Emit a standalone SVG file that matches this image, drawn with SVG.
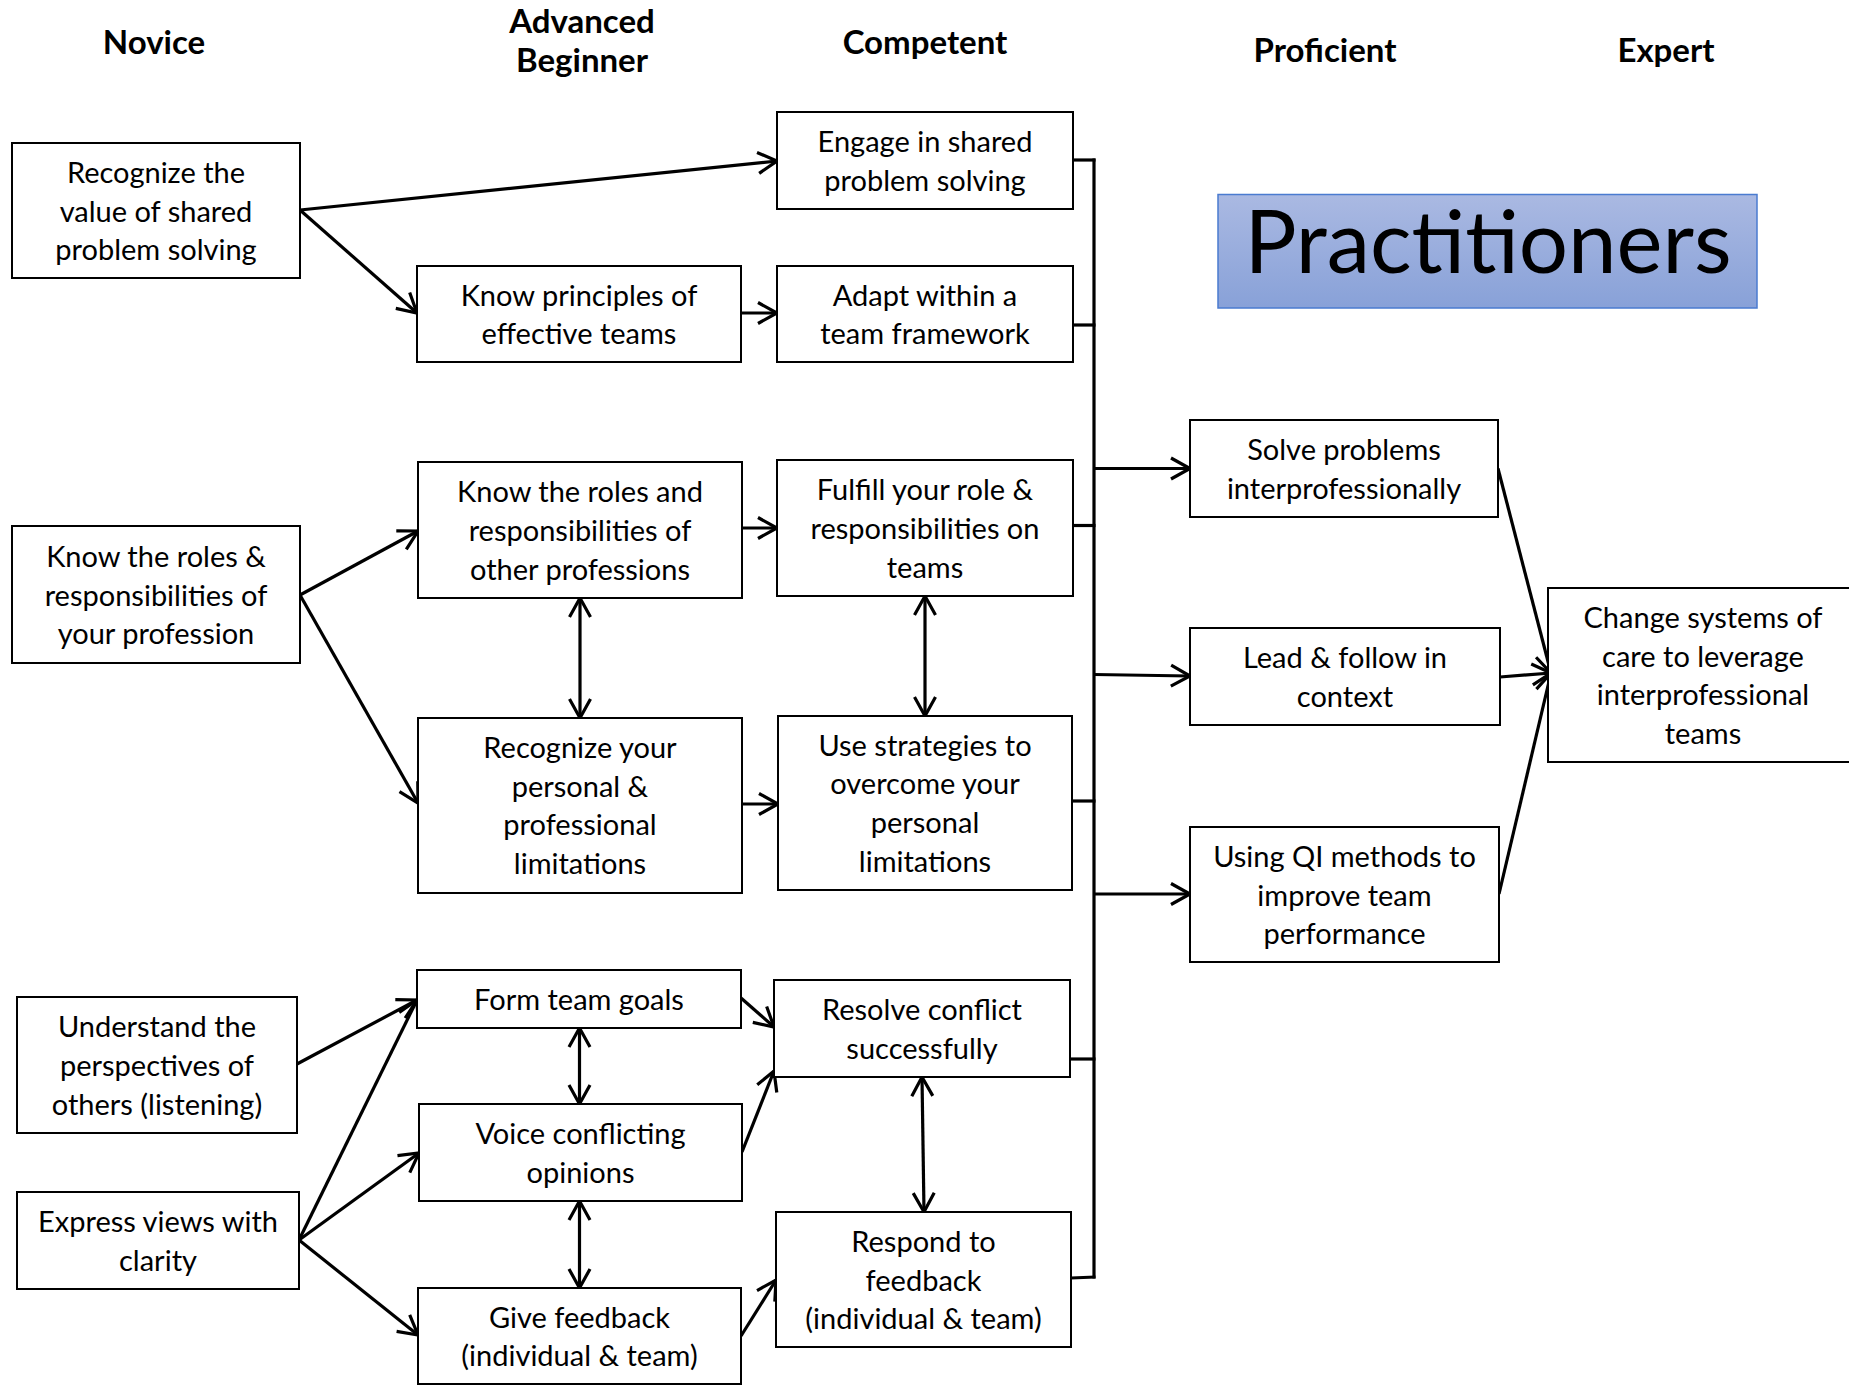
<svg xmlns="http://www.w3.org/2000/svg" width="1849" height="1385" viewBox="0 0 1849 1385">
  <defs>
    <linearGradient id="bannerFill" x1="0" y1="0" x2="0" y2="1">
      <stop offset="0" stop-color="#AAB9E2"/>
      <stop offset="1" stop-color="#88A1D8"/>
    </linearGradient>
    <marker id="arrow" markerUnits="userSpaceOnUse" orient="auto-start-reverse" overflow="visible" markerWidth="1" markerHeight="1" refX="0" refY="0">
      <path d="M-19,-10.5 L0,0 L-19,10.5" fill="none" stroke="#000" stroke-width="3.2"/>
    </marker>
    <style>
      .box rect { fill: #fff; stroke: #000; stroke-width: 2; }
      .box text { font-family: Lato, "Open Sans", sans-serif; font-size: 29px; fill: #000; text-anchor: middle; }
      .head { font-family: Lato, "Open Sans", sans-serif; font-size: 33px; font-weight: bold; fill: #000; text-anchor: middle; }
      .conn path { fill: none; stroke: #000; stroke-width: 3.2; }
      .arr { marker-end: url(#arrow); }
      .dbl { marker-start: url(#arrow); marker-end: url(#arrow); }
    </style>
  </defs>

  <!-- stage headings -->
  <g id="headings">
    <text class="head" x="154" y="54">Novice</text>
    <text class="head" x="582" y="33" font-size="32">Advanced</text>
    <text class="head" x="582" y="72" font-size="32">Beginner</text>
    <text class="head" x="925" y="54">Competent</text>
    <text class="head" x="1325" y="62">Proficient</text>
    <text class="head" x="1666" y="62">Expert</text>
  </g>

  <!-- banner -->
  <g id="practitioners">
    <rect x="1218" y="194.5" width="539" height="113.5" fill="url(#bannerFill)" stroke="#4A7BD0" stroke-width="1.5"/>
    <text x="1488" y="273" font-family="Lato, 'Open Sans', sans-serif" font-size="87" fill="#000" text-anchor="middle">Practitioners</text>
  </g>

  <!-- connectors -->
  <g id="connectors" class="conn">
    <path class="arr" d="M300,210 L777,161"/>
    <path class="arr" d="M300,210 L417,313"/>
    <path class="arr" d="M741,313 L777,313"/>
    <path class="arr" d="M300,595 L418,531"/>
    <path class="arr" d="M300,595 L418,803"/>
    <path class="arr" d="M742,528 L777,528"/>
    <path class="arr" d="M742,804 L778,804"/>
    <path class="dbl" d="M580,598 L580,718"/>
    <path class="dbl" d="M925,596 L925,716"/>
    <path class="arr" d="M297,1064 L417,1000"/>
    <path class="arr" d="M299,1240 L417,1000"/>
    <path class="arr" d="M299,1240 L419,1153"/>
    <path class="arr" d="M299,1240 L418,1335"/>
    <path class="arr" d="M741,998 L774,1027"/>
    <path class="arr" d="M742,1152 L774,1071"/>
    <path class="arr" d="M741,1336 L776,1280"/>
    <path class="dbl" d="M579.5,1028 L579.5,1104"/>
    <path class="dbl" d="M579.5,1201 L579.5,1288"/>
    <path class="dbl" d="M922,1077 L924,1212"/>
    <!-- collecting bus -->
    <path d="M1094,158.5 L1094,1278.5"/>
    <path d="M1073,160 L1095.5,160"/>
    <path d="M1073,325 L1095.5,325"/>
    <path d="M1073,525.5 L1095.5,525.5"/>
    <path d="M1072,801 L1095.5,801"/>
    <path d="M1070,1059 L1095.5,1059"/>
    <path d="M1071,1278 L1095.5,1277"/>
    <path class="arr" d="M1094,468.5 L1190,468.5"/>
    <path class="arr" d="M1094,674.5 L1190,676"/>
    <path class="arr" d="M1094,894 L1190,894"/>
    <path class="arr" d="M1498,468.5 L1551,673"/>
    <path class="arr" d="M1500,677 L1551,673"/>
    <path class="arr" d="M1499,894 L1551,673"/>
  </g>

  <!-- Novice -->
  <g id="n-recognize-value" class="box">
    <rect x="12" y="143" width="288" height="135"/>
    <text x="156" y="182.8">Recognize the</text>
    <text x="156" y="221.5">value of shared</text>
    <text x="156" y="260.2">problem solving</text>
  </g>
  <g id="n-roles-own" class="box">
    <rect x="12" y="526" width="288" height="137"/>
    <text x="156" y="566.8">Know the roles &amp;</text>
    <text x="156" y="605.5">responsibilities of</text>
    <text x="156" y="644.2">your profession</text>
  </g>
  <g id="n-understand" class="box">
    <rect x="17" y="997" width="280" height="136"/>
    <text x="157" y="1037.3">Understand the</text>
    <text x="157" y="1076">perspectives of</text>
    <text x="157" y="1114.7">others (listening)</text>
  </g>
  <g id="n-express" class="box">
    <rect x="17" y="1192" width="282" height="97"/>
    <text x="158" y="1232.2">Express views with</text>
    <text x="158" y="1270.9">clarity</text>
  </g>

  <!-- Advanced Beginner -->
  <g id="ab-principles" class="box">
    <rect x="417" y="266" width="324" height="96"/>
    <text x="579" y="305.7">Know principles of</text>
    <text x="579" y="344.4">effective teams</text>
  </g>
  <g id="ab-roles-other" class="box">
    <rect x="418" y="462" width="324" height="136"/>
    <text x="580" y="502.3">Know the roles and</text>
    <text x="580" y="541">responsibilities of</text>
    <text x="580" y="579.7">other professions</text>
  </g>
  <g id="ab-limitations" class="box">
    <rect x="418" y="718" width="324" height="175"/>
    <text x="580" y="758">Recognize your</text>
    <text x="580" y="796.7">personal &amp;</text>
    <text x="580" y="835.4">professional</text>
    <text x="580" y="874.1">limitations</text>
  </g>
  <g id="ab-goals" class="box">
    <rect x="417" y="970" width="324" height="58"/>
    <text x="579" y="1010">Form team goals</text>
  </g>
  <g id="ab-voice" class="box">
    <rect x="419" y="1104" width="323" height="97"/>
    <text x="580.5" y="1144.2">Voice conflicting</text>
    <text x="580.5" y="1182.9">opinions</text>
  </g>
  <g id="ab-feedback" class="box">
    <rect x="418" y="1288" width="323" height="96"/>
    <text x="579.5" y="1327.7">Give feedback</text>
    <text x="579.5" y="1366.4">(individual &amp; team)</text>
  </g>

  <!-- Competent -->
  <g id="c-engage" class="box">
    <rect x="777" y="112" width="296" height="97"/>
    <text x="925" y="152.2">Engage in shared</text>
    <text x="925" y="190.9">problem solving</text>
  </g>
  <g id="c-adapt" class="box">
    <rect x="777" y="266" width="296" height="96"/>
    <text x="925" y="305.7">Adapt within a</text>
    <text x="925" y="344.4">team framework</text>
  </g>
  <g id="c-fulfill" class="box">
    <rect x="777" y="460" width="296" height="136"/>
    <text x="925" y="500.3">Fulfill your role &amp;</text>
    <text x="925" y="539">responsibilities on</text>
    <text x="925" y="577.7">teams</text>
  </g>
  <g id="c-strategies" class="box">
    <rect x="778" y="716" width="294" height="174"/>
    <text x="925" y="755.5">Use strategies to</text>
    <text x="925" y="794.2">overcome your</text>
    <text x="925" y="832.9">personal</text>
    <text x="925" y="871.6">limitations</text>
  </g>
  <g id="c-resolve" class="box">
    <rect x="774" y="980" width="296" height="97"/>
    <text x="922" y="1020.2">Resolve conflict</text>
    <text x="922" y="1058.9">successfully</text>
  </g>
  <g id="c-respond" class="box">
    <rect x="776" y="1212" width="295" height="135"/>
    <text x="923.5" y="1251.8">Respond to</text>
    <text x="923.5" y="1290.5">feedback</text>
    <text x="923.5" y="1329.2">(individual &amp; team)</text>
  </g>

  <!-- Proficient -->
  <g id="p-solve" class="box">
    <rect x="1190" y="420" width="308" height="97"/>
    <text x="1344" y="460.2">Solve problems</text>
    <text x="1344" y="498.9">interprofessionally</text>
  </g>
  <g id="p-lead" class="box">
    <rect x="1190" y="628" width="310" height="97"/>
    <text x="1345" y="668.2">Lead &amp; follow in</text>
    <text x="1345" y="706.9">context</text>
  </g>
  <g id="p-qi" class="box">
    <rect x="1190" y="827" width="309" height="135"/>
    <text x="1344.5" y="866.8">Using QI methods to</text>
    <text x="1344.5" y="905.5">improve team</text>
    <text x="1344.5" y="944.2">performance</text>
  </g>

  <!-- Expert -->
  <g id="e-change" class="box">
    <rect x="1548" y="588" width="310" height="174"/>
    <text x="1703" y="628">Change systems of</text>
    <text x="1703" y="666.7">care to leverage</text>
    <text x="1703" y="705.4">interprofessional</text>
    <text x="1703" y="744.1">teams</text>
  </g>
</svg>
